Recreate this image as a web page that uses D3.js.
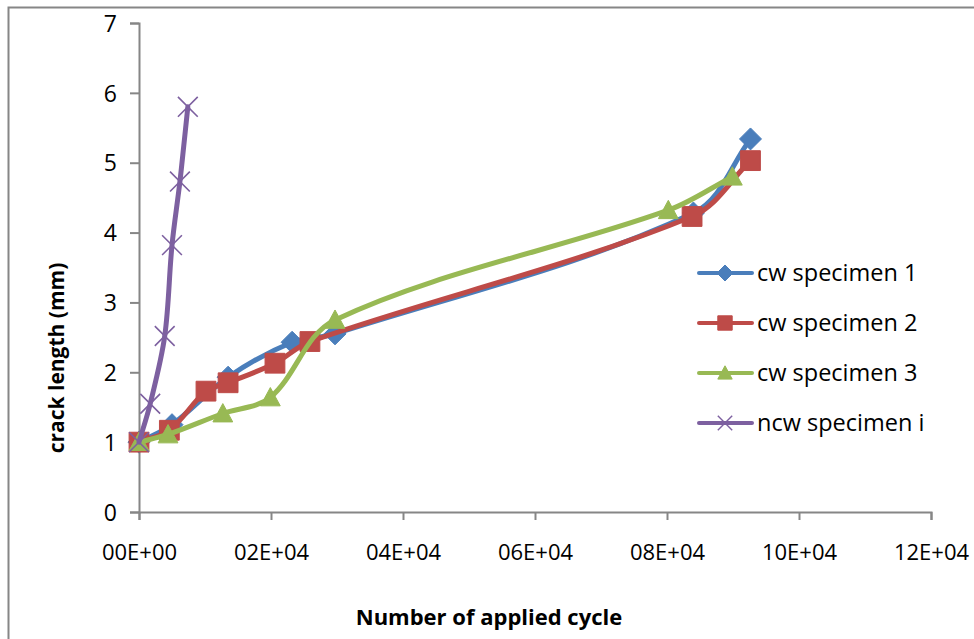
<!DOCTYPE html>
<html><head><meta charset="utf-8">
<script src="https://cdn.jsdelivr.net/npm/d3@7"></script>
<style>body{margin:0;background:#fff;} svg{display:block;}</style>
</head><body>
<svg id="chart" width="974" height="639"></svg>
<script>
const xTicks = [0, 20000, 40000, 60000, 80000, 100000, 120000];
const xTickLabels = ["00E+00","02E+04","04E+04","06E+04","08E+04","10E+04","12E+04"];
const yTicks = [0,1,2,3,4,5,6,7];

const seriesNames = ["cw specimen 1","cw specimen 2","cw specimen 3","ncw specimen i"];
const s1x = [0, 5000, 13500, 23200, 29700, 84000, 92650];
const s1y = [1.0, 1.25, 1.93, 2.43, 2.55, 4.28, 5.34];
const s2x = [0, 4600, 10150, 13500, 20600, 25900, 83800, 92650];
const s2y = [1.0, 1.17, 1.73, 1.85, 2.13, 2.44, 4.23, 5.03];
const s3x = [0, 4400, 12700, 19900, 29700, 80200, 89900];
const s3y = [1.0, 1.11, 1.41, 1.64, 2.75, 4.32, 4.80];
const s4x = [0, 1700, 3900, 5000, 6200, 7400];
const s4y = [1.0, 1.55, 2.52, 3.82, 4.73, 5.80];
const colors = ["#4A7EBB","#BE4B48","#98B954","#7D60A0"];
const markerKinds = ["diamond","square","triangle","cross"];

const svg = d3.select("#chart");
const font = "'Open Sans', sans-serif";
svg.append("rect").attr("x",8.5).attr("y",7.5).attr("width",1000).attr("height",700)
  .attr("fill","#fff").attr("stroke","#868686").attr("stroke-width",2);

const x = d3.scaleLinear().domain([0,120000]).range([139,931]);
const y = d3.scaleLinear().domain([0,7]).range([512,23]);

const axisColor = "#868686";
const gx = svg.append("g").attr("transform","translate(0,512)")
  .call(d3.axisBottom(x).tickValues(xTicks).tickFormat((d,i)=>xTickLabels[i]).tickSize(8).tickPadding(24));
const gy = svg.append("g").attr("transform","translate(139,0)")
  .call(d3.axisLeft(y).tickValues(yTicks).tickFormat(d3.format("d")).tickSize(9).tickPadding(13));
[gx,gy].forEach(g=>{
  g.select(".domain").attr("stroke",axisColor).attr("stroke-width",2);
  g.selectAll(".tick line").attr("stroke",axisColor).attr("stroke-width",2);
  g.selectAll("text").attr("fill","#000").style("font-family",font).style("font-size","22px");
});
gy.selectAll("text").attr("dy","0.36em").style("font-size","23px");

svg.append("text").attr("x",489).attr("y",625).attr("text-anchor","middle")
  .style("font-family",font).style("font-size","22px").style("font-weight","bold")
  .text("Number of applied cycle");
svg.append("text").attr("transform","translate(64,358) rotate(-90)").attr("text-anchor","middle")
  .style("font-family",font).style("font-size","21px").style("font-weight","bold")
  .text("crack length (mm)");

function markerPath(kind, s){
  const p = d3.path();
  if(kind==="diamond"){ p.moveTo(0,-s); p.lineTo(s,0); p.lineTo(0,s); p.lineTo(-s,0); p.closePath(); }
  else if(kind==="square"){ const h=s*0.9; p.rect(-h,-h,2*h,2*h); }
  else if(kind==="triangle"){ const h=s*0.9; p.moveTo(0,-h); p.lineTo(h,h*0.85); p.lineTo(-h,h*0.85); p.closePath(); }
  else { const h=s*0.9; p.moveTo(-h,-h); p.lineTo(h,h); p.moveTo(h,-h); p.lineTo(-h,h); }
  return p.toString();
}

// Smoothed line (Excel-like): unit tangents, control distance = segment length / 3
function smoothPath(pts){
  const P = pts.map(d=>[x(d[0]), y(d[1])]);
  const n = P.length;
  const T = P.map((p,i)=>{
    const a = P[Math.max(0,i-1)], b = P[Math.min(n-1,i+1)];
    const dx=b[0]-a[0], dy=b[1]-a[1], L=Math.hypot(dx,dy)||1;
    return [dx/L, dy/L];
  });
  const path = d3.path();
  path.moveTo(P[0][0],P[0][1]);
  for(let i=0;i<n-1;i++){
    const a=P[i], b=P[i+1];
    const L = Math.hypot(b[0]-a[0], b[1]-a[1])/3;
    path.bezierCurveTo(a[0]+T[i][0]*L, a[1]+T[i][1]*L, b[0]-T[i+1][0]*L, b[1]-T[i+1][1]*L, b[0], b[1]);
  }
  return path.toString();
}

const allX = [s1x,s2x,s3x,s4x], allY = [s1y,s2y,s3y,s4y];
const plot = svg.append("g");
allX.forEach((xs,i)=>{
  const pts = xs.map((v,j)=>[v, allY[i][j]]);
  const g = plot.append("g");
  g.append("path").attr("d",smoothPath(pts)).attr("fill","none").attr("stroke",colors[i])
    .attr("stroke-width",5).attr("stroke-linejoin","round").attr("stroke-linecap","round");
  g.selectAll("path.m").data(pts).enter().append("path").attr("class","m")
    .attr("transform",d=>`translate(${x(d[0])},${y(d[1])})`)
    .attr("d",markerPath(markerKinds[i],11))
    .attr("fill",markerKinds[i]==="cross"?"none":colors[i])
    .attr("stroke",colors[i]).attr("stroke-width",markerKinds[i]==="cross"?1.6:1);
});

const legendY = [273,323,373,423];
const lg = svg.append("g");
seriesNames.forEach((n,i)=>{
  const g = lg.append("g").attr("transform",`translate(0,${legendY[i]})`);
  g.append("line").attr("x1",699).attr("x2",752).attr("y1",0).attr("y2",0)
    .attr("stroke",colors[i]).attr("stroke-width",4).attr("stroke-linecap","round");
  g.append("path").attr("transform","translate(725,0)").attr("d",markerPath(markerKinds[i],8))
    .attr("fill",markerKinds[i]==="cross"?"none":colors[i])
    .attr("stroke",colors[i]).attr("stroke-width",markerKinds[i]==="cross"?1.4:1);
  g.append("text").attr("x",757).attr("y",0).attr("dy","0.36em")
    .style("font-family",font).style("font-size","23.5px").text(n);
});
</script>
</body></html>
